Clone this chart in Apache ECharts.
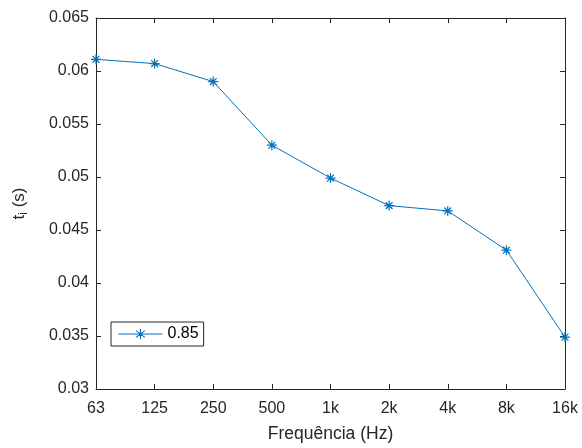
<!DOCTYPE html>
<html><head><meta charset="utf-8">
<script src="https://cdn.jsdelivr.net/npm/echarts@6/dist/echarts.min.js"></script>
<style>html,body{margin:0;padding:0;background:#fff}#c{width:582px;height:448px}</style>
</head><body><div id="c"></div>
<script>
var categories = ['63','125','250','500','1k','2k','4k','8k','16k'];
var values = [0.0611, 0.0607, 0.0590, 0.0530, 0.0499, 0.0473, 0.0468, 0.0431, 0.0349];
var seriesName = '0.85';
var yTicks = {min: 0.03, max: 0.065, interval: 0.005};

var star = 'path://M5,0L5,10M0,5L10,5M1.6,1.6L8.4,8.4M8.4,1.6L1.6,8.4';
var legendIcon = 'path://M0,5L44,5M22,0L22,10M17.6,1.6L26.4,8.4M26.4,1.6L17.6,8.4M17,5L27,5';
var txt = '#262626';
var font = 'Liberation Sans';
var chart = echarts.init(document.getElementById('c'));
chart.setOption({
  animation: false,
  textStyle: {fontFamily: font},
  grid: {left: 96, top: 18, right: 17, bottom: 58, containLabel: false},
  xAxis: [{
    type: 'category', data: categories, boundaryGap: false,
    axisLine: {lineStyle: {color: txt, width: 1}},
    axisTick: {inside: true, length: 5, alignWithLabel: true, lineStyle: {color: txt}},
    axisLabel: {color: txt, fontSize: 16, margin: 12, fontFamily: font},
    name: 'Frequência (Hz)', nameLocation: 'middle', nameGap: 36,
    nameTextStyle: {color: txt, fontSize: 17.5, fontFamily: font},
    splitLine: {show: false}
  }, {
    type: 'category', data: categories, boundaryGap: false, position: 'top',
    axisLine: {lineStyle: {color: txt, width: 1}},
    axisTick: {inside: true, length: 5, lineStyle: {color: txt}},
    axisLabel: {show: false}, splitLine: {show: false}
  }],
  yAxis: [{
    type: 'value', min: yTicks.min, max: yTicks.max, interval: yTicks.interval,
    axisLine: {show: true, lineStyle: {color: txt, width: 1}},
    axisTick: {show: true, inside: true, length: 5, lineStyle: {color: txt}},
    axisLabel: {color: txt, fontSize: 16, margin: 7, fontFamily: font,
      formatter: function(v){ return String(parseFloat(v.toFixed(4))); }},
    splitLine: {show: false},
    name: '{a|t}{b|i}{a| (s)}', nameLocation: 'middle', nameGap: 66, nameRotate: 90,
    nameTextStyle: {color: txt, fontFamily: font, rich: {
      a: {fontSize: 17, color: txt, fontFamily: font, verticalAlign: 'middle'},
      b: {fontSize: 12, color: txt, fontFamily: font, padding: [9, 0, 0, 0], verticalAlign: 'middle'}
    }}
  }, {
    type: 'value', min: yTicks.min, max: yTicks.max, interval: yTicks.interval, position: 'right',
    axisLine: {show: true, lineStyle: {color: txt, width: 1}},
    axisTick: {show: true, inside: true, length: 5, lineStyle: {color: txt}},
    axisLabel: {show: false}, splitLine: {show: false}
  }],
  legend: {
    left: 111, top: 322, orient: 'vertical',
    itemWidth: 44, itemHeight: 10, itemGap: 0,
    padding: [4, 5, 4, 5],
    borderColor: txt, borderWidth: 1, backgroundColor: '#fff',
    textStyle: {color: '#000', fontSize: 16, fontFamily: font},
    itemStyle: {color: 'none', borderColor: '#0072BD', borderWidth: 1.1},
    data: [{name: seriesName, icon: legendIcon}]
  },
  series: [{
    name: seriesName, type: 'line', data: values,
    xAxisIndex: 0, yAxisIndex: 0,
    symbol: star, symbolSize: 10, showSymbol: true,
    lineStyle: {color: '#0072BD', width: 1},
    itemStyle: {color: 'none', borderColor: '#0072BD', borderWidth: 1.2}
  }]
});
</script></body></html>
